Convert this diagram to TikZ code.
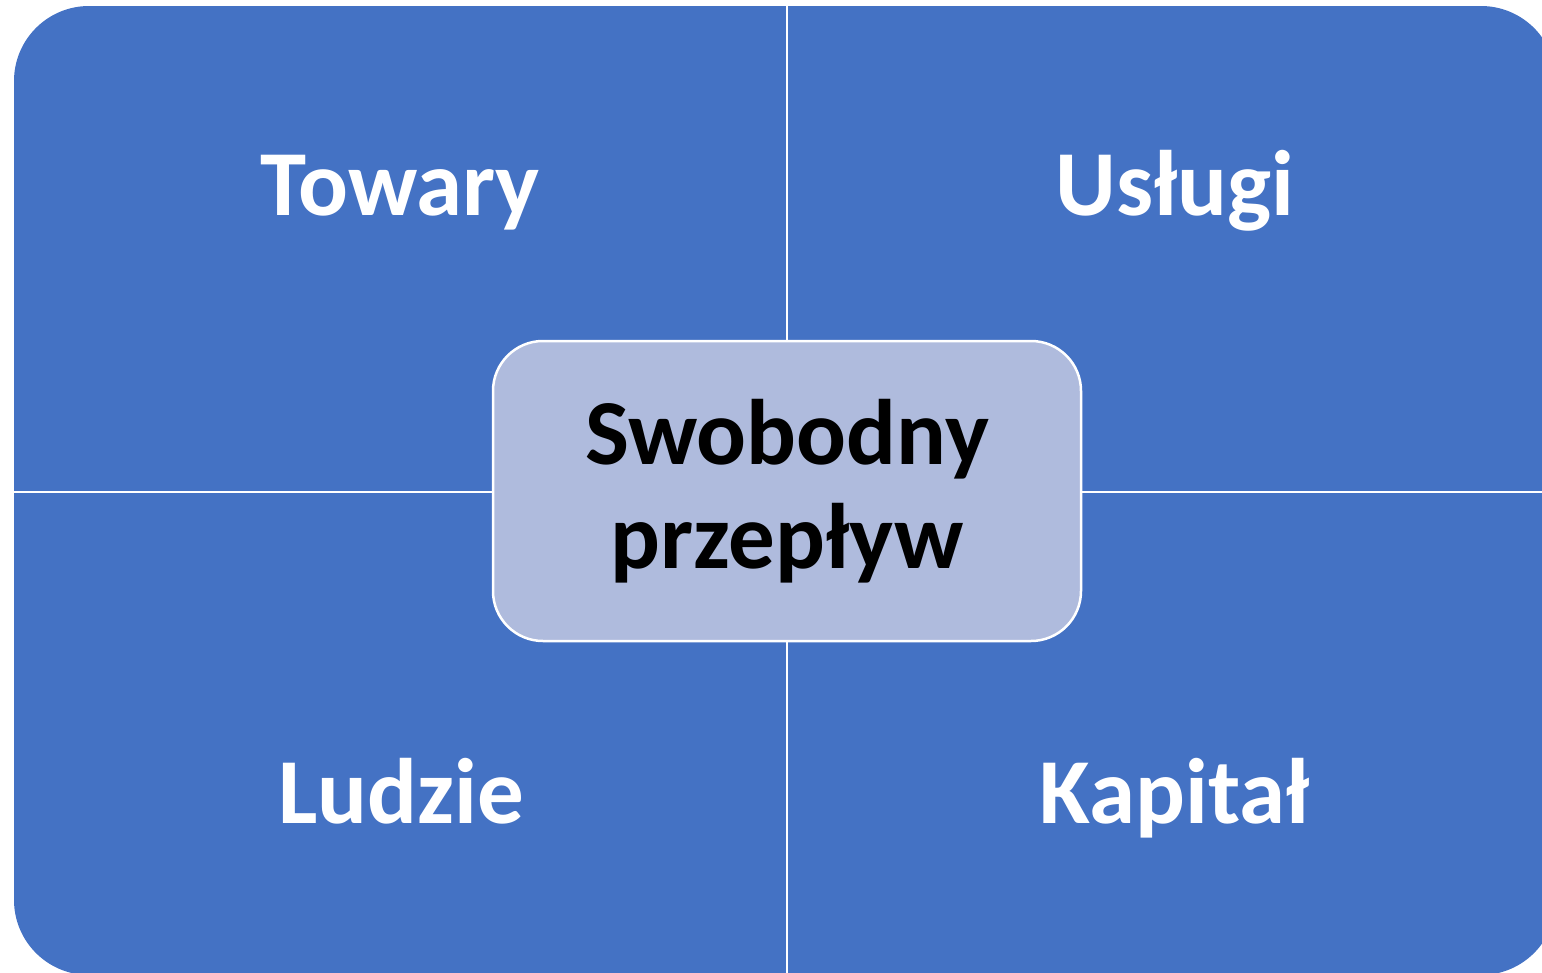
\documentclass[tikz,border=0pt]{standalone}
\usepackage{fontspec}
\setmainfont{Carlito}
\definecolor{quadblue}{RGB}{68,114,196}
\definecolor{centerblue}{RGB}{175,187,221}
\begin{document}
\begin{tikzpicture}[x=1pt,y=-1pt,
  quad/.style={fill=quadblue},
  quadlabel/.style={anchor=base,text=white,font=\bfseries\fontsize{93}{104}\selectfont,inner sep=0pt},
  centerbox/.style={draw=white,line width=2.5pt,fill=centerblue,rounded corners=50pt,
    minimum width=588pt,minimum height=300pt,align=center,text=black,
    font=\bfseries\fontsize{93}{104}\selectfont,inner sep=0pt}]
\useasboundingbox (0,0) rectangle (1542,972);
\begin{scope}
  \clip[rounded corners=75pt] (14,6) rectangle (1556,975);
  \fill[quad] (14,6) rectangle (786,491);
  \fill[quad] (788,6) rectangle (1556,491);
  \fill[quad] (14,493) rectangle (786,975);
  \fill[quad] (788,493) rectangle (1556,975);
\end{scope}
\node[quadlabel] (towary) at (400,215) {Towary};
\node[quadlabel] (uslugi) at (1175,215) {Usługi};
\node[quadlabel] (ludzie) at (401,823) {Ludzie};
\node[quadlabel] (kapital) at (1175,823) {Kapitał};
\node[centerbox] (center) at (787,491) {Swobodny\\przepływ};
\end{tikzpicture}
\end{document}
